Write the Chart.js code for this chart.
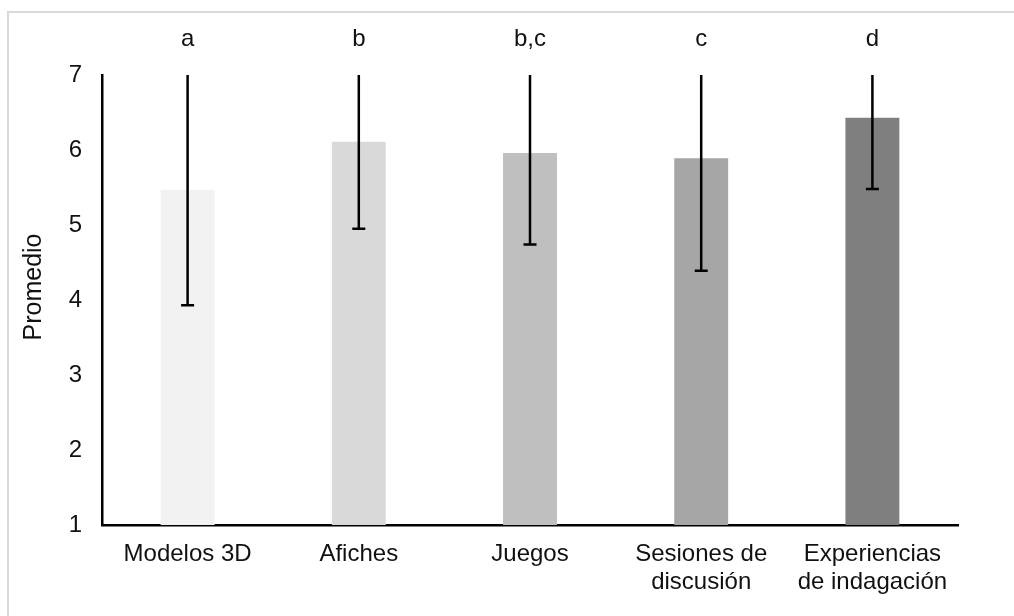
<!DOCTYPE html>
<html>
<head>
<meta charset="utf-8">
<script src="https://cdn.jsdelivr.net/npm/chart.js@4.4.0/dist/chart.umd.min.js"></script>
<style>
  html, body { margin: 0; padding: 0; background: #fff; }
  #wrap { position: relative; width: 1014px; height: 616px; overflow: hidden; }
  #frame { position: absolute; left: 7px; top: 11px; width: 1100px; height: 700px;
           border-top: 2px solid #d9d9d9; border-left: 2px solid #d9d9d9; }
  canvas { position: absolute; left: 0; top: 0; }
</style>
</head>
<body>
<div id="wrap">
  <div id="frame"></div>
  <canvas id="chart" width="1014" height="616"></canvas>
</div>
<script>
// data
const categories = ['Modelos 3D', 'Afiches', 'Juegos', ['Sesiones de', 'discusión'], ['Experiencias', 'de indagación']];
const means = [5.47, 6.11, 5.96, 5.89, 6.43];
const sdValues = [1.54, 1.16, 1.22, 1.50, 0.95];
const groupLetters = ['a', 'b', 'b,c', 'c', 'd'];
const barColors = ['#f2f2f2', '#d9d9d9', '#bfbfbf', '#a6a6a6', '#7f7f7f'];
const yMin = 1, yMax = 7, yStep = 1;
const yTitle = 'Promedio';

const FONT = '"Liberation Sans", Arial, sans-serif';

// error bars (clipped at the top of the axis), group letters and y title
const extras = {
  id: 'extras',
  afterDatasetsDraw(chart) {
    const ctx = chart.ctx;
    const y = chart.scales.y;
    const meta = chart.getDatasetMeta(0);
    ctx.save();
    ctx.strokeStyle = '#000';
    ctx.lineWidth = 2.5;
    meta.data.forEach((bar, i) => {
      const lo = y.getPixelForValue(means[i] - sdValues[i]);
      const hi = y.getPixelForValue(Math.min(means[i] + sdValues[i], yMax));
      const x = bar.x;
      ctx.beginPath();
      ctx.moveTo(x, lo);
      ctx.lineTo(x, hi);
      ctx.moveTo(x - 6.5, lo);
      ctx.lineTo(x + 6.5, lo);
      ctx.stroke();

      ctx.fillStyle = '#111';
      ctx.font = '24px ' + FONT;
      ctx.textAlign = 'center';
      ctx.textBaseline = 'alphabetic';
      ctx.fillText(groupLetters[i], x, 46);
    });

    ctx.translate(34, 287);
    ctx.rotate(-Math.PI / 2);
    ctx.font = '25px ' + FONT;
    ctx.fillStyle = '#111';
    ctx.textAlign = 'center';
    ctx.textBaseline = 'middle';
    ctx.fillText(yTitle, 0, 0);
    ctx.restore();
  }
};

new Chart(document.getElementById('chart').getContext('2d'), {
  type: 'bar',
  data: {
    labels: categories,
    datasets: [{
      data: means,
      backgroundColor: barColors,
      borderWidth: 0,
      barPercentage: 0.315,
      categoryPercentage: 1
    }]
  },
  options: {
    responsive: false,
    animation: false,
    layout: { padding: { top: 75, right: 56, left: 0, bottom: 0 } },
    plugins: { legend: { display: false }, tooltip: { enabled: false } },
    scales: {
      x: {
        grid: { display: false, drawTicks: false },
        border: { display: true, color: '#000', width: 2.5 },
        ticks: {
          color: '#111',
          padding: 16,
          maxRotation: 0,
          autoSkip: false,
          font: { family: FONT, size: 24, lineHeight: 1.15 }
        },
        afterFit: s => { s.height = 91; }
      },
      y: {
        min: yMin,
        max: yMax,
        grid: { display: false, drawTicks: false },
        border: { display: true, color: '#000', width: 2.5 },
        ticks: {
          stepSize: yStep,
          color: '#111',
          padding: 20,
          font: { family: FONT, size: 24 }
        },
        afterFit: s => { s.width = 102; }
      }
    }
  },
  plugins: [extras]
});
</script>
</body>
</html>
